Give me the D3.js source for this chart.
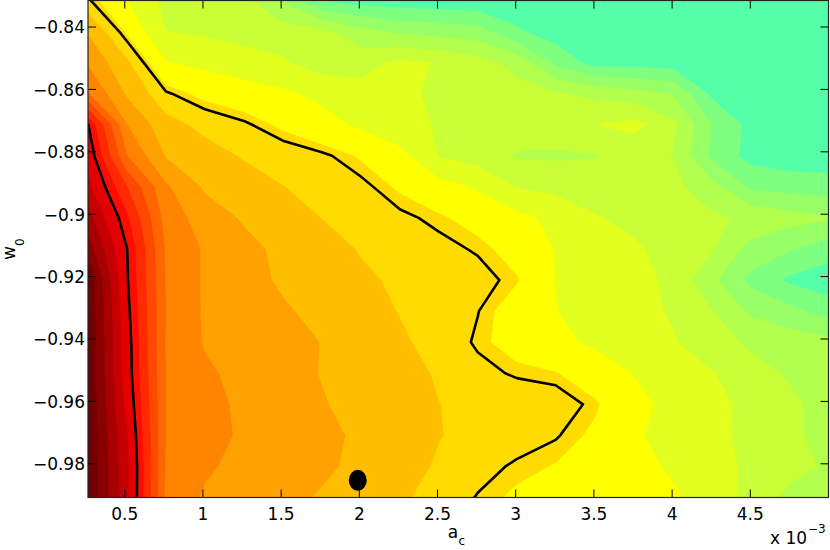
<!DOCTYPE html>
<html>
<head>
<meta charset="utf-8">
<script src="https://cdn.jsdelivr.net/npm/d3@7"></script>
<style>
  body { margin: 0; background: #fff; }
  text { font-family: "DejaVu Sans", sans-serif; fill: #000; }
</style>
</head>
<body>
<div id="chart"></div>
<script>
// a_c grid (x 10^-3), left to right
var aGrid = [0.265, 0.514, 0.764, 1.013, 1.262, 1.511, 1.761, 2.010, 2.259, 2.508,
             2.757, 3.007, 3.256, 3.505, 3.754, 4.003, 4.253, 4.502, 4.751, 5.000];
// w_0 grid, top row first
var wGrid = [-0.8315, -0.8415, -0.8514, -0.8614, -0.8713, -0.8813, -0.8912, -0.9012, -0.9112,
             -0.9211, -0.9311, -0.9410, -0.9510, -0.9610, -0.9709, -0.9809, -0.9908];

// field, one row per w_0 value (top first)
var field = [
  [7.35, 6.02, 4.7, 4.55, 4.3, 2.9, 0.9, 0.6, 0.4, 0.35, 0.3, 0.3, 0.3, 0.3, 0.3, 0.3, 0.3, 0.3, 0.3, 0.3],
  [8.9, 6.84, 5.02, 4.85, 4.6, 4.45, 4.3, 3.3, 2.8, 2.6, 2.4, 1.15, 0.5, 0.4, 0.35, 0.3, 0.3, 0.3, 0.3, 0.3],
  [9.85, 8.15, 6.05, 5.73, 5.44, 5.14, 4.5, 4.6, 5.2, 4.95, 4.4, 3.67, 1.74, 0.6, 0.6, 0.5, 0.4, 0.35, 0.3, 0.3],
  [11.05, 8.86, 7.34, 6.76, 6.47, 6.17, 5.75, 5.4, 5.15, 4.87, 4.61, 4.35, 4.09, 3.75, 3.37, 2.95, 0.8, 0.5, 0.35, 0.3],
  [14.9, 10.02, 8.34, 7.74, 7.36, 6.84, 6.34, 5.83, 5.28, 4.93, 4.78, 4.63, 4.6, 4.98, 5.35, 4.25, 2.02, 0.7, 0.4, 0.35],
  [15.6, 11.02, 8.92, 8.37, 7.91, 7.64, 7.37, 6.91, 6.32, 4.95, 4.6, 3.9, 3.85, 3.95, 4.2, 3.98, 1.82, 0.65, 0.4, 0.35],
  [16.3, 13.02, 10.15, 8.85, 8.44, 8.02, 7.72, 7.42, 6.89, 6.41, 5.86, 4.95, 4.75, 4.54, 4.34, 4.3, 3.35, 1.8, 1.6, 1.5],
  [17.4, 14.17, 10.57, 9.52, 8.89, 8.44, 7.99, 7.69, 7.39, 7.10, 6.72, 6.27, 5.75, 5.08, 4.75, 4.47, 4.19, 3.8, 3.4, 3.1],
  [18.5, 14.87, 10.86, 9.88, 9.28, 8.77, 8.33, 7.94, 7.69, 7.44, 7.18, 6.71, 5.96, 5.56, 5.15, 4.65, 4.09, 2.64, 2.07, 1.45],
  [19.8, 14.96, 10.91, 9.87, 9.34, 8.86, 8.51, 8.15, 7.86, 7.62, 7.5, 7.05, 5.98, 5.64, 5.30, 4.81, 3.23, 1.74, 0.82, 0.4],
  [19.9, 15.14, 10.96, 9.87, 9.50, 9.12, 8.73, 8.35, 7.96, 7.61, 7.27, 6.63, 6.02, 5.66, 5.31, 4.91, 4.07, 2.82, 2.28, 1.6],
  [19.9, 15.33, 10.9, 9.91, 9.60, 9.29, 8.98, 8.56, 8.14, 7.67, 7.16, 6.68, 6.24, 5.83, 5.46, 5.09, 4.43, 3.83, 3.55, 3.3],
  [19.9, 15.4, 10.94, 10.16, 9.70, 9.33, 8.96, 8.62, 8.28, 7.92, 7.44, 7.17, 7.03, 6.55, 5.97, 5.52, 5.07, 4.4, 3.87, 3.57],
  [19.9, 15.67, 10.95, 10.31, 9.81, 9.43, 9.06, 8.71, 8.36, 8.01, 7.80, 7.68, 7.6, 7.1, 6.28, 5.73, 5.26, 4.77, 4.23, 3.6],
  [19.9, 16.02, 10.94, 10.34, 9.86, 9.54, 9.21, 8.86, 8.45, 8.03, 7.78, 7.54, 7.30, 6.87, 6.13, 5.66, 5.24, 4.78, 4.24, 3.58],
  [19.9, 16.25, 10.88, 10.12, 9.75, 9.45, 9.16, 8.79, 8.34, 7.90, 7.47, 7.16, 6.96, 6.62, 6.27, 5.89, 5.34, 4.83, 4.37, 3.85],
  [19.9, 16.25, 10.77, 9.88, 9.56, 9.24, 8.91, 8.52, 8.13, 7.69, 7.21, 6.88, 6.69, 6.50, 6.31, 6.12, 5.63, 4.65, 3.74, 3.05]
];

var levels = [1, 2, 3, 4, 5, 6, 7, 8, 9, 10, 11, 12, 13, 14, 15, 16, 17, 18, 19];
var lineLevels = [7.25, 14.85];
var bestFit = [1.99, -0.9853];

var xTicks = [0.5, 1, 1.5, 2, 2.5, 3, 3.5, 4, 4.5];
var yTicks = [-0.84, -0.86, -0.88, -0.9, -0.92, -0.94, -0.96, -0.98];

// band colours, lowest band first (jet-like)
var bandColors = ["#55ffaa", "#7fff80", "#99ff66", "#b2ff4d", "#c8ff37", "#e2ff1d", "#ffff00",
                  "#ffdb00", "#ffbf00", "#ffa100", "#ff8400", "#ff6600", "#ff4800", "#ff2a00",
                  "#ff0c00", "#e40000", "#c60000", "#a80000", "#8a0000", "#720000"];

//setup *************************************************************
var width = 830, height = 550;
var plotL = 88, plotR = 828.5, plotT = 0.5, plotB = 497.5;

var x = d3.scaleLinear().domain([0.265, 5.0]).range([plotL, plotR]);
var y = d3.scaleLinear().domain([-0.9908, -0.8315]).range([plotB, plotT]);

// contour grid coords -> data
var ix = d3.scaleLinear().domain([0.5, aGrid.length - 0.5]).range([aGrid[0], aGrid[aGrid.length - 1]]);
var iy = d3.scaleLinear().domain([0.5, wGrid.length - 0.5]).range([wGrid[0], wGrid[wGrid.length - 1]]);

var proj = d3.geoTransform({
  point: function(px, py) { this.stream.point(x(ix(px)), y(iy(py))); }
});
var path = d3.geoPath(proj);

var values = [];
field.forEach(function(row) { row.forEach(function(v) { values.push(v); }); });

var svg = d3.select("#chart").append("svg")
  .attr("width", width)
  .attr("height", height);

svg.append("clipPath").attr("id", "plotclip")
  .append("rect")
  .attr("x", plotL).attr("y", plotT)
  .attr("width", plotR - plotL).attr("height", plotB - plotT);

var plot = svg.append("g").attr("clip-path", "url(#plotclip)");

//filled contours ************************************************************
plot.append("rect")
  .attr("x", plotL).attr("y", plotT)
  .attr("width", plotR - plotL).attr("height", plotB - plotT)
  .attr("fill", bandColors[0]);

var bands = d3.contours()
  .size([aGrid.length, wGrid.length])
  .thresholds(levels)(values);

plot.selectAll("path.band")
  .data(bands)
  .enter()
  .append("path")
  .attr("class", "band")
  .attr("d", path)
  .attr("fill", function(d, i) { return bandColors[i + 1]; })
  .attr("stroke", function(d, i) { return bandColors[i + 1]; })
  .attr("stroke-width", 0.5);

var lines = d3.contours()
  .size([aGrid.length, wGrid.length])
  .thresholds(lineLevels)(values);

plot.selectAll("path.cline")
  .data(lines)
  .enter()
  .append("path")
  .attr("class", "cline")
  .attr("d", path)
  .attr("fill", "none")
  .attr("stroke", "#000")
  .attr("stroke-width", 2.6)
  .attr("stroke-linejoin", "round");

plot.append("ellipse")
  .attr("cx", x(bestFit[0]))
  .attr("cy", y(bestFit[1]))
  .attr("rx", 9)
  .attr("ry", 10.5)
  .attr("fill", "#000");

//axes ***********************************************************************
var tickLen = 8;
var axes = svg.append("g").attr("stroke", "#000").attr("stroke-width", 1);

xTicks.forEach(function(t) {
  axes.append("line").attr("x1", x(t)).attr("x2", x(t)).attr("y1", plotB).attr("y2", plotB - tickLen);
  axes.append("line").attr("x1", x(t)).attr("x2", x(t)).attr("y1", plotT).attr("y2", plotT + tickLen);
});
yTicks.forEach(function(t) {
  axes.append("line").attr("x1", plotL).attr("x2", plotL + tickLen).attr("y1", y(t)).attr("y2", y(t));
  axes.append("line").attr("x1", plotR).attr("x2", plotR - tickLen).attr("y1", y(t)).attr("y2", y(t));
});

svg.append("rect")
  .attr("x", plotL).attr("y", plotT)
  .attr("width", plotR - plotL).attr("height", plotB - plotT)
  .attr("fill", "none")
  .attr("stroke", "#222")
  .attr("stroke-width", 1.2);

svg.selectAll("text.xt")
  .data(xTicks)
  .enter()
  .append("text")
  .attr("class", "xt")
  .attr("x", function(d) { return x(d); })
  .attr("y", 520)
  .attr("text-anchor", "middle")
  .style("font-size", "17px")
  .text(function(d) { return String(d); });

svg.selectAll("text.yt")
  .data(yTicks)
  .enter()
  .append("text")
  .attr("class", "yt")
  .attr("x", 85)
  .attr("y", function(d) { return y(d) + 6.3; })
  .attr("text-anchor", "end")
  .style("font-size", "17px")
  .text(function(d) { return String(d).replace("-", "\u2212"); });

// axis labels
svg.append("text").attr("x", 453).attr("y", 538).attr("text-anchor", "middle")
  .style("font-size", "17px").text("a");
svg.append("text").attr("x", 458.5).attr("y", 545)
  .style("font-size", "12px").text("c");

var yl = svg.append("g").attr("transform", "translate(15,253) rotate(-90)");
yl.append("text").attr("x", 0).attr("y", 0).attr("text-anchor", "middle")
  .style("font-size", "17px").text("w");
yl.append("text").attr("x", 7).attr("y", 9)
  .style("font-size", "12px").text("0");

svg.append("text").attr("x", 770).attr("y", 544)
  .style("font-size", "17px").text("x 10");
svg.append("text").attr("x", 808).attr("y", 533)
  .style("font-size", "12px").text("\u22123");
</script>
</body>
</html>
